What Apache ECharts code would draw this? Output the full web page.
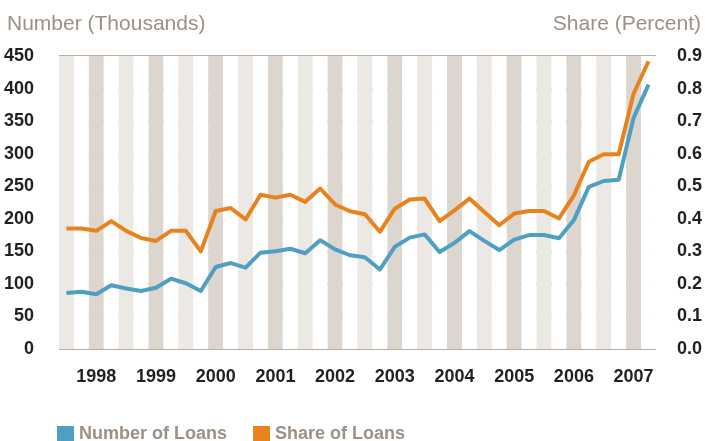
<!DOCTYPE html>
<html>
<head>
<meta charset="utf-8">
<script src="https://cdn.jsdelivr.net/npm/echarts@6/dist/echarts.min.js"></script>
<style>
html,body{margin:0;padding:0;background:#fff;}
#chart{width:705px;height:441px;}
</style>
</head>
<body>
<div id="chart"></div>
<script>
var years = ['1998','1999','2000','2001','2002','2003','2004','2005','2006','2007'];
var quarters = ['Q1','Q2','Q3','Q4'];
var leftTicks = [0, 450, 50];
var rightTicks = [0, 0.9, 0.1];
var numberOfLoans = [86, 88, 84, 98, 93, 89, 94, 108, 101, 89,
                     126, 132, 125, 148, 150, 154, 147, 167, 153, 144,
                     141, 122, 157, 171, 176, 149, 163, 181, 166, 152,
                     168, 175, 175, 170, 198, 249, 258, 260, 355, 406];
var shareOfLoans = [0.370, 0.370, 0.363, 0.393, 0.363, 0.341, 0.332, 0.363, 0.363, 0.300,
                    0.424, 0.433, 0.398, 0.474, 0.465, 0.474, 0.452, 0.493, 0.444, 0.423,
                    0.414, 0.360, 0.431, 0.459, 0.462, 0.393, 0.426, 0.462, 0.421, 0.380,
                    0.416, 0.424, 0.424, 0.401, 0.472, 0.575, 0.598, 0.598, 0.784, 0.884];

var categories = [];
years.forEach(function (y) { quarters.forEach(function (q) { categories.push(y + ' ' + q); }); });

var labelFont = '"Liberation Sans", Arial, sans-serif';
var titleColor = '#9d9085';
var darkText = '#231f20';
var blue = '#4f9fc3';
var orange = '#e8821e';

var chart = echarts.init(document.getElementById('chart'));
chart.setOption({
  animation: false,
  backgroundColor: '#ffffff',
  title: [
    { text: 'Number (Thousands)', left: 2, top: 9,
      textStyle: { fontFamily: labelFont, fontSize: 21, fontWeight: 'normal', color: titleColor } },
    { text: 'Share (Percent)', right: -1, top: 9,
      textStyle: { fontFamily: labelFont, fontSize: 21, fontWeight: 'normal', color: titleColor } }
  ],
  legend: {
    left: 52, top: 420,
    icon: 'rect', itemWidth: 17, itemHeight: 16, itemGap: 26,
    textStyle: { fontFamily: labelFont, fontSize: 18, fontWeight: 'bold', color: titleColor },
    data: ['Number of Loans', 'Share of Loans']
  },
  grid: { left: 59, right: 49, top: 56, bottom: 92, containLabel: false },
  xAxis: {
    type: 'category',
    data: categories,
    boundaryGap: true,
    axisLine: { show: false },
    axisTick: { show: false },
    splitLine: { show: false },
    splitArea: { show: true, interval: 0,
      areaStyle: { color: ['#ece8e3', '#ffffff', '#ddd6cf', '#ffffff'] } },
    axisLabel: {
      interval: function (i) { return i % 4 === 2; },
      formatter: function (v) { return v.slice(0, 4); },
      margin: 19,
      fontFamily: labelFont, fontSize: 18, fontWeight: 'bold', color: darkText
    }
  },
  yAxis: [
    { type: 'value', min: leftTicks[0], max: leftTicks[1], interval: leftTicks[2],
      axisLine: { show: false }, axisTick: { show: false },
      splitLine: { show: true, lineStyle: { color: '#a39588', width: 1.5 } },
      axisLabel: { margin: 25, fontFamily: labelFont, fontSize: 18, fontWeight: 'bold', color: darkText } },
    { type: 'value', min: rightTicks[0], max: rightTicks[1], interval: rightTicks[2],
      axisLine: { show: false }, axisTick: { show: false },
      splitLine: { show: false },
      axisLabel: { margin: 21, fontFamily: labelFont, fontSize: 18, fontWeight: 'bold', color: darkText,
        formatter: function (v) { return v.toFixed(1); } } }
  ],
  series: [
    { name: 'Number of Loans', type: 'line', yAxisIndex: 0, data: numberOfLoans,
      symbol: 'none', itemStyle: { color: blue }, lineStyle: { color: blue, width: 4, join: 'round' }, z: 3 },
    { name: 'Share of Loans', type: 'line', yAxisIndex: 1, data: shareOfLoans,
      symbol: 'none', itemStyle: { color: orange }, lineStyle: { color: orange, width: 4, join: 'round' }, z: 4 }
  ]
});
</script>
</body>
</html>
